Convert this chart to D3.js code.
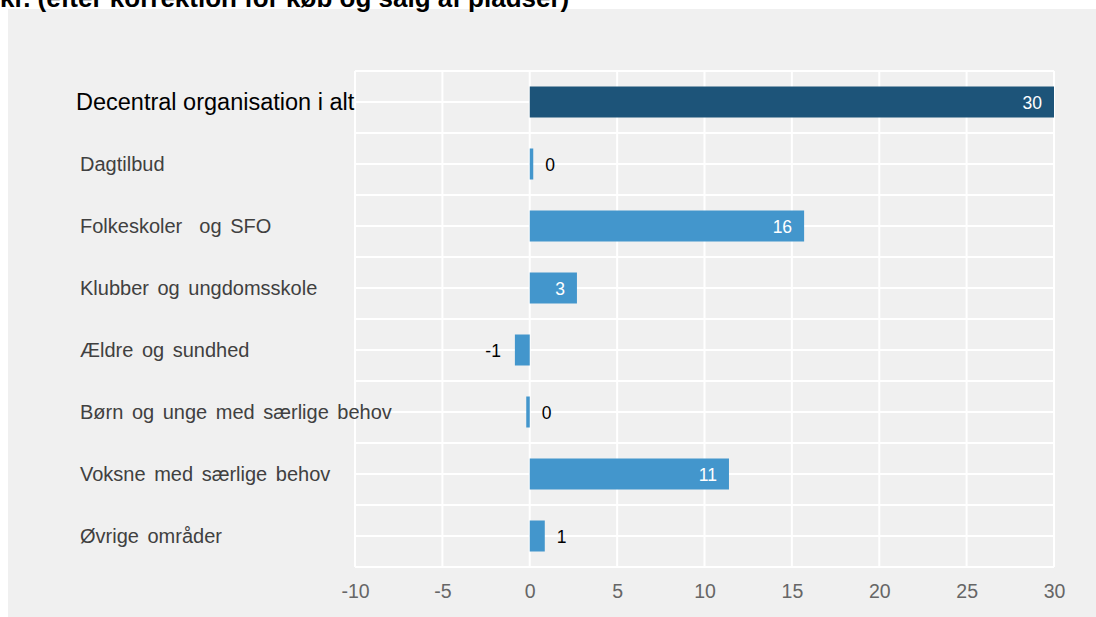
<!DOCTYPE html>
<html>
<head>
<meta charset="utf-8">
<script src="https://cdn.jsdelivr.net/npm/d3@7"></script>
<style>
  html, body { margin: 0; padding: 0; background: #fff; }
  svg { display: block; font-family: 'Liberation Sans', Arial, sans-serif; }
</style>
</head>
<body>
<svg id="chart" width="1096" height="617"></svg>
<script>
const categories = [
  'Decentral organisation i alt',
  'Dagtilbud',
  'Folkeskoler  og SFO',
  'Klubber og ungdomsskole',
  'Ældre og sundhed',
  'Børn og unge med særlige behov',
  'Voksne med særlige behov',
  'Øvrige områder',
];
const values = [30, 0.2, 15.7, 2.7, -0.85, -0.2, 11.4, 0.86];
const tickValues = [-10, -5, 0, 5, 10, 15, 20, 25, 30];
const titleText = 'kr. (efter korrektion for køb og salg af pladser)';

const cs = {
  palette: {
    total: '#1d5479',
    bar: '#4396cc',
    panel: '#f0f0f0',
    grid: '#ffffff',
  },
  plot: { left: 355, right: 1054, top: 71, bottom: 567 },
};

const svg = d3.select('#chart');

// background panel
svg.append('rect')
  .attr('x', 8).attr('y', 9)
  .attr('width', 1088).attr('height', 608)
  .attr('fill', cs.palette.panel);

// title, cut at the top edge as in the source image
svg.append('text')
  .attr('x', 0).attr('y', 7)
  .attr('font-size', 26)
  .attr('font-weight', 'bold')
  .attr('fill', '#000')
  .text(titleText);

const x = d3.scaleLinear().domain([-10, 30]).range([cs.plot.left, cs.plot.right]);
const y = d3.scaleBand().domain(categories).range([cs.plot.top, cs.plot.bottom]);

// grid: vertical at ticks, horizontal at band edges and centres
const grid = svg.append('g').attr('stroke', cs.palette.grid).attr('stroke-width', 2);
grid.selectAll('line.v').data(tickValues).enter().append('line')
  .attr('class', 'v')
  .attr('x1', d => x(d)).attr('x2', d => x(d))
  .attr('y1', cs.plot.top).attr('y2', cs.plot.bottom);
const hLines = [];
categories.forEach((c) => {
  hLines.push(y(c));
  hLines.push(y(c) + y.bandwidth() / 2);
});
hLines.push(cs.plot.bottom);
grid.selectAll('line.h').data(hLines).enter().append('line')
  .attr('class', 'h')
  .attr('x1', cs.plot.left).attr('x2', cs.plot.right)
  .attr('y1', d => d).attr('y2', d => d);

const ds = categories.map((c, i) => ({ dim: c, metric: values[i], i }));
const barH = y.bandwidth() * 0.5;
const getYCoord = d => y(d.dim) + (y.bandwidth() - barH) / 2;

svg.selectAll('rect.bar').data(ds).enter().append('rect')
  .attr('class', 'bar')
  .attr('x', d => x(Math.min(0, d.metric)))
  .attr('width', d => Math.abs(x(d.metric) - x(0)))
  .attr('y', getYCoord)
  .attr('height', barH)
  .attr('fill', d => (d.i === 0 ? cs.palette.total : cs.palette.bar));

// category labels
svg.selectAll('text.cat').data(ds).enter().append('text')
  .attr('class', 'cat')
  .attr('x', d => (d.i === 0 ? 76 : 80))
  .attr('y', d => y(d.dim) + y.bandwidth() / 2)
  .attr('dy', '0.35em')
  .attr('font-size', d => (d.i === 0 ? 23.5 : 20))
  .attr('word-spacing', d => (d.i === 0 ? 0 : 3))
  .attr('fill', d => (d.i === 0 ? '#000' : '#404040'))
  .style('white-space', 'pre')
  .text(d => d.dim);

// value labels
const fmt = (v) => {
  const r = Math.round(v);
  return r === 0 ? '0' : String(r);
};
const inside = d => Math.abs(d.metric) >= 2;
svg.selectAll('text.val').data(ds).enter().append('text')
  .attr('class', 'val')
  .attr('x', (d) => {
    if (inside(d)) return x(d.metric) - 12;
    if (Math.round(d.metric) < 0) return x(d.metric) - 14;
    return x(Math.max(0, d.metric)) + 12;
  })
  .attr('y', d => y(d.dim) + y.bandwidth() / 2 + 1)
  .attr('dy', '0.35em')
  .attr('text-anchor', d => (inside(d) || Math.round(d.metric) < 0 ? 'end' : 'start'))
  .attr('font-size', 17.5)
  .attr('fill', d => (inside(d) ? '#fff' : '#000'))
  .text(d => fmt(d.metric));

// x axis, plain hyphen for negatives
const xAxis = d3.axisBottom(x)
  .tickValues(tickValues)
  .tickFormat(d => String(d))
  .tickSize(0)
  .tickPadding(17);
const axisG = svg.append('g')
  .attr('transform', `translate(0, ${cs.plot.bottom})`)
  .call(xAxis);
axisG.select('.domain').remove();
axisG.selectAll('text')
  .attr('font-size', 19.5)
  .attr('font-family', "'Liberation Sans', Arial, sans-serif")
  .attr('fill', '#666');
</script>
</body>
</html>
